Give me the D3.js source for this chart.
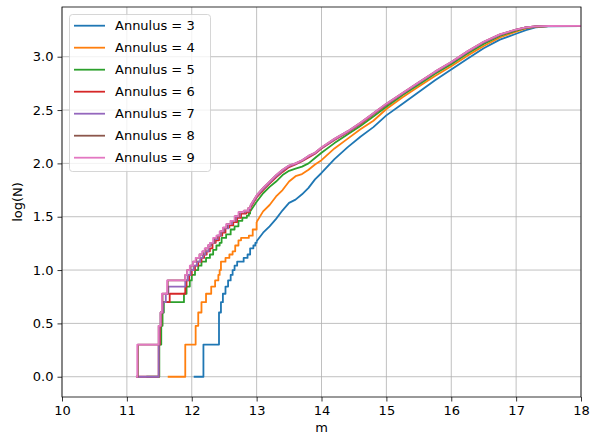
<!DOCTYPE html>
<html><head><meta charset="utf-8">
<script src="https://cdn.jsdelivr.net/npm/d3@7/dist/d3.min.js"></script>
<style>body{margin:0;background:#fff}svg{display:block}text{font-family:"DejaVu Sans",sans-serif}</style>
</head><body><svg id="c" width="592" height="436"></svg>
<script>
const xTicks = [10,11,12,13,14,15,16,17,18];
const yTicks = [0.0,0.5,1.0,1.5,2.0,2.5,3.0];
const annuli = [3,4,5,6,7,8,9];

// step (low N) parts: [m, log(N)]
const s3Steps = [[12.03,0],[12.18,0.301],[12.42,0.602],[12.45,0.699],[12.48,0.778],[12.52,0.845],[12.56,0.903],[12.60,0.954],[12.63,1.0],[12.66,1.041],[12.70,1.079],[12.80,1.114],[12.86,1.146],[12.90,1.204],[12.95,1.23],[12.98,1.255]];
const s4Steps = [[11.63,0],[11.90,0.301],[12.06,0.477],[12.10,0.602],[12.15,0.699],[12.22,0.778],[12.30,0.845],[12.36,0.903],[12.41,0.954],[12.43,1.0],[12.45,1.079],[12.52,1.114],[12.58,1.146],[12.63,1.176],[12.67,1.23],[12.72,1.279],[12.76,1.301],[12.88,1.322],[12.94,1.38]];
const s5Steps = [[11.30,0],[11.50,0.301],[11.53,0.477],[11.55,0.602],[11.57,0.699],[11.88,0.778],[11.92,0.845],[11.97,0.903],[12.00,0.954],[12.05,1.0],[12.10,1.041],[12.15,1.079],[12.22,1.114],[12.28,1.146],[12.33,1.19],[12.38,1.23],[12.43,1.255],[12.46,1.301],[12.53,1.334],[12.60,1.38],[12.66,1.41],[12.72,1.462],[12.78,1.49],[12.85,1.51],[12.88,1.53]];
const s6Steps = [[11.18,0],[11.49,0.301],[11.51,0.477],[11.53,0.602],[11.55,0.699],[11.66,0.778],[11.90,0.845],[11.92,0.903],[11.96,0.954],[12.00,1.0],[12.05,1.041],[12.10,1.079],[12.15,1.114],[12.19,1.146],[12.23,1.176],[12.28,1.204],[12.32,1.255],[12.37,1.279],[12.42,1.322],[12.47,1.35],[12.52,1.398],[12.58,1.42],[12.64,1.45],[12.70,1.49],[12.76,1.53],[12.84,1.54],[12.88,1.56]];
const s7Steps = [[11.14,0],[11.49,0.301],[11.50,0.477],[11.52,0.602],[11.56,0.699],[11.60,0.778],[11.64,0.845],[11.90,0.903],[11.94,0.954],[11.98,1.0],[12.03,1.041],[12.08,1.079],[12.13,1.114],[12.17,1.146],[12.21,1.176],[12.26,1.23],[12.30,1.255],[12.35,1.29],[12.40,1.322],[12.45,1.362],[12.50,1.39],[12.56,1.431],[12.62,1.462],[12.68,1.50],[12.74,1.54],[12.82,1.55],[12.88,1.575]];
const s8Steps = [[11.14,0],[11.17,0.301],[11.49,0.477],[11.52,0.602],[11.55,0.778],[11.63,0.903],[11.90,0.954],[11.93,1.0],[11.98,1.041],[12.02,1.079],[12.07,1.114],[12.12,1.146],[12.17,1.176],[12.21,1.204],[12.25,1.23],[12.29,1.255],[12.34,1.301],[12.39,1.322],[12.44,1.362],[12.49,1.398],[12.54,1.431],[12.60,1.462],[12.67,1.505],[12.73,1.544],[12.81,1.556],[12.87,1.58]];
const s9Steps = [[11.14,0],[11.16,0.301],[11.49,0.477],[11.52,0.602],[11.54,0.778],[11.62,0.903],[11.90,0.954],[11.93,1.0],[11.97,1.041],[12.02,1.079],[12.06,1.114],[12.12,1.146],[12.16,1.176],[12.20,1.204],[12.25,1.23],[12.28,1.255],[12.33,1.301],[12.38,1.322],[12.43,1.362],[12.48,1.398],[12.53,1.431],[12.60,1.462],[12.66,1.505],[12.72,1.544],[12.80,1.556],[12.87,1.58]];

// dense (high N) parts, read at these magnitudes
const tailM  = [12.9,13.0,13.1,13.2,13.3,13.4,13.5,13.6,13.7,13.8,13.9,14.0,14.2,14.4,14.6,14.8,15.0,15.25,15.5,15.75,16.0,16.25,16.5,16.75,17.0,17.15,17.3,17.5,18.0];
const s3Tail = [null,1.27,1.35,1.41,1.48,1.56,1.63,1.66,1.71,1.77,1.85,1.91,2.04,2.15,2.25,2.34,2.45,2.56,2.67,2.78,2.88,2.98,3.08,3.16,3.215,3.25,3.275,3.285,3.288];
const s4Tail = [null,1.45,1.55,1.61,1.69,1.75,1.83,1.88,1.90,1.94,1.99,2.03,2.14,2.23,2.32,2.40,2.51,2.62,2.72,2.82,2.91,3.01,3.10,3.18,3.235,3.265,3.28,3.286,3.288];
const s5Tail = [1.55,1.64,1.72,1.78,1.83,1.89,1.93,1.95,1.97,2.00,2.05,2.10,2.19,2.27,2.35,2.44,2.53,2.64,2.74,2.84,2.93,3.03,3.12,3.195,3.245,3.27,3.282,3.287,3.29];
const s6Tail = [1.58,1.68,1.75,1.81,1.87,1.92,1.965,1.99,2.02,2.055,2.09,2.14,2.22,2.29,2.37,2.46,2.55,2.655,2.755,2.855,2.945,3.045,3.135,3.205,3.252,3.274,3.284,3.288,3.29];
const s7Tail = [1.59,1.69,1.76,1.82,1.88,1.93,1.975,1.995,2.025,2.065,2.095,2.145,2.225,2.295,2.375,2.465,2.555,2.655,2.755,2.855,2.945,3.045,3.135,3.205,3.253,3.274,3.284,3.288,3.29];
const s8Tail = [1.60,1.70,1.77,1.83,1.89,1.94,1.98,2.00,2.03,2.07,2.10,2.15,2.23,2.30,2.38,2.47,2.56,2.66,2.76,2.86,2.95,3.05,3.14,3.21,3.255,3.275,3.285,3.288,3.29];
const s9Tail = [1.60,1.70,1.77,1.83,1.89,1.94,1.98,2.00,2.03,2.07,2.10,2.15,2.23,2.30,2.38,2.47,2.56,2.66,2.76,2.86,2.95,3.05,3.14,3.21,3.255,3.275,3.285,3.288,3.29];

const colors = ["#1f77b4","#ff7f0e","#2ca02c","#d62728","#9467bd","#8c564b","#e377c2"];
const stepSets = [s3Steps,s4Steps,s5Steps,s6Steps,s7Steps,s8Steps,s9Steps];
const tailSets = [s3Tail,s4Tail,s5Tail,s6Tail,s7Tail,s8Tail,s9Tail];

const W=592,H=436, L=62, R=581, T=7, B=397;
const FS = 13;
const svg = d3.select("#c");
const x = d3.scaleLinear().domain([10,18]).range([L,R]);
const y = d3.scaleLinear().domain([-0.19,3.466]).range([B,T]);

// grid
const g = svg.append("g");
g.selectAll(".gx").data(xTicks).join("line").attr("x1",d=>x(d)).attr("x2",d=>x(d)).attr("y1",T).attr("y2",B).attr("stroke","#b0b0b0").attr("stroke-width",0.8);
g.selectAll(".gy").data(yTicks).join("line").attr("y1",d=>y(d)).attr("y2",d=>y(d)).attr("x1",L).attr("x2",R).attr("stroke","#b0b0b0").attr("stroke-width",0.8);

// clip
svg.append("clipPath").attr("id","cp").append("rect").attr("x",L).attr("y",T).attr("width",R-L).attr("height",B-T);
const plot = svg.append("g").attr("clip-path","url(#cp)");

const stepLine = d3.line().x(d=>x(d[0])).y(d=>y(d[1])).curve(d3.curveStepAfter);
const linLine = d3.line().x(d=>x(d[0])).y(d=>y(d[1]));

stepSets.forEach((steps,i)=>{
  const tail = tailM.map((m,j)=>[m,tailSets[i][j]]).filter(d=>d[1]!==null);
  plot.append("path").attr("d",stepLine(steps.concat([tail[0]]))).attr("fill","none").attr("stroke",colors[i]).attr("stroke-width",1.8).attr("stroke-linejoin","round");
  plot.append("path").attr("d",linLine(tail)).attr("fill","none").attr("stroke",colors[i]).attr("stroke-width",1.8).attr("stroke-linejoin","round").attr("stroke-linecap","butt");
});

// axes
const xa = svg.append("g").attr("transform",`translate(0,${B})`).call(d3.axisBottom(x).tickValues(xTicks).tickFormat(d3.format("d")).tickSize(4.5).tickPadding(4));
const ya = svg.append("g").attr("transform",`translate(${L},0)`).call(d3.axisLeft(y).tickValues(yTicks).tickFormat(d3.format(".1f")).tickSize(4.5).tickPadding(4));
[xa,ya].forEach(a=>{a.select(".domain").remove();a.selectAll("text").attr("font-size",FS).attr("fill","#000").attr("font-family","DejaVu Sans");a.selectAll("line").attr("stroke","#000").attr("stroke-width",0.8);});

svg.append("rect").attr("x",L).attr("y",T).attr("width",R-L).attr("height",B-T).attr("fill","none").attr("stroke","#000").attr("stroke-width",0.8);

svg.append("text").attr("x",(L+R)/2).attr("y",432).attr("text-anchor","middle").attr("font-size",FS).text("m");
svg.append("text").attr("transform",`translate(22,${(T+B)/2}) rotate(-90)`).attr("text-anchor","middle").attr("font-size",FS).text("log(N)");

// legend
const lg = svg.append("g");
lg.append("rect").attr("x",69.5).attr("y",14.5).attr("width",141).attr("height",157).attr("rx",3).attr("fill","#fff").attr("fill-opacity",0.8).attr("stroke","#cccccc").attr("stroke-width",0.8);
annuli.forEach((a,i)=>{
  const yy = 25.7 + i*22;
  lg.append("line").attr("x1",74).attr("x2",105).attr("y1",yy).attr("y2",yy).attr("stroke",colors[i]).attr("stroke-width",1.8);
  lg.append("text").attr("x",115).attr("y",yy).attr("dy","0.36em").attr("font-size",FS).text(`Annulus = ${a}`);
});
</script></body></html>
